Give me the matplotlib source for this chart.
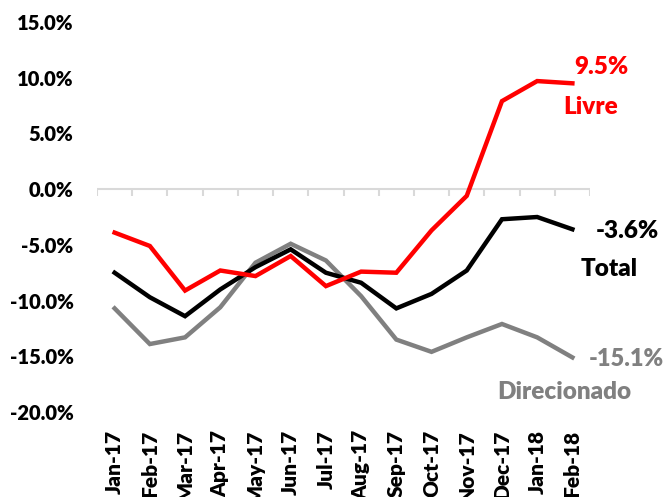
import numpy as np
import matplotlib
matplotlib.use("Agg")
import matplotlib.pyplot as plt
from matplotlib.ticker import FuncFormatter

# monthly growth (%)
months = ["Jan-17", "Feb-17", "Mar-17", "Apr-17", "May-17", "Jun-17", "Jul-17",
          "Aug-17", "Sep-17", "Oct-17", "Nov-17", "Dec-17", "Jan-18", "Feb-18"]
livre = [-3.9, -5.1, -9.1, -7.3, -7.8, -6.0, -8.7, -7.4, -7.5, -3.7, -0.6, 7.9, 9.7, 9.5]
total = [-7.5, -9.7, -11.4, -9.0, -7.0, -5.4, -7.5, -8.4, -10.7, -9.4, -7.3, -2.7, -2.5, -3.6]
direcionado = [-10.7, -13.9, -13.3, -10.6, -6.6, -4.9, -6.4, -9.6, -13.5, -14.6, -13.3, -12.1, -13.3, -15.1]

RED = "#ff0000"
BLACK = "#000000"
GRAY = "#808080"
W = "heavy"

plt.rcParams["font.family"] = ["Lato", "DejaVu Sans"]

fig = plt.figure(figsize=(6.65, 4.97), dpi=100)
ax = fig.add_axes([0.1459, 0.1710, 0.8872 - 0.1459, 0.9557 - 0.1710])

x = np.arange(len(months))
ax.plot(x, direcionado, color=GRAY, lw=3.2, solid_joinstyle="miter")
ax.plot(x, total, color=BLACK, lw=3.2, solid_joinstyle="miter")
ax.plot(x, livre, color=RED, lw=3.2, solid_joinstyle="miter")

ax.set_xlim(-0.5, len(months) - 0.5)
ax.set_ylim(-20, 15)

# category axis drawn at zero, with boundary tick marks
ax.axhline(0, color="#d9d9d9", lw=1.5, zorder=0)
ax.vlines(np.arange(len(months) + 1) - 0.5, -0.65, 0, color="#d9d9d9", lw=1.5, zorder=0)

for s in ax.spines.values():
    s.set_visible(False)

ax.set_yticks(np.arange(-20, 16, 5))
ax.yaxis.set_major_formatter(FuncFormatter(lambda v, p: f"{v:.1f}%"))
ax.tick_params(axis="y", length=0, pad=17, labelsize=14.5)
ax.set_xticks(x)
ax.set_xticklabels(months, rotation=90, fontsize=15)
ax.tick_params(axis="x", length=0, pad=13)
for lab in ax.get_xticklabels() + ax.get_yticklabels():
    lab.set_fontweight(W)

# end-of-line labels
kw = dict(ha="center", va="center", fontsize=17.5, fontweight=W, clip_on=False)
ax.text(13.81, 10.96, f"{livre[-1]:.1f}%", color=RED, **kw)
ax.text(13.53, 7.36, "Livre", color=RED, **kw)
ax.text(14.57, -3.77, f"{total[-1]:.1f}%", color=BLACK, **kw)
ax.text(14.05, -7.19, "Total", color=BLACK, **kw)
ax.text(14.52, -15.27, f"{direcionado[-1]:.1f}%", color=GRAY, fontsize=17, **{k: v for k, v in kw.items() if k != "fontsize"})
ax.text(12.78, -18.24, "Direcionado", color=GRAY, **kw)

fig.savefig("out.png", dpi=100)
